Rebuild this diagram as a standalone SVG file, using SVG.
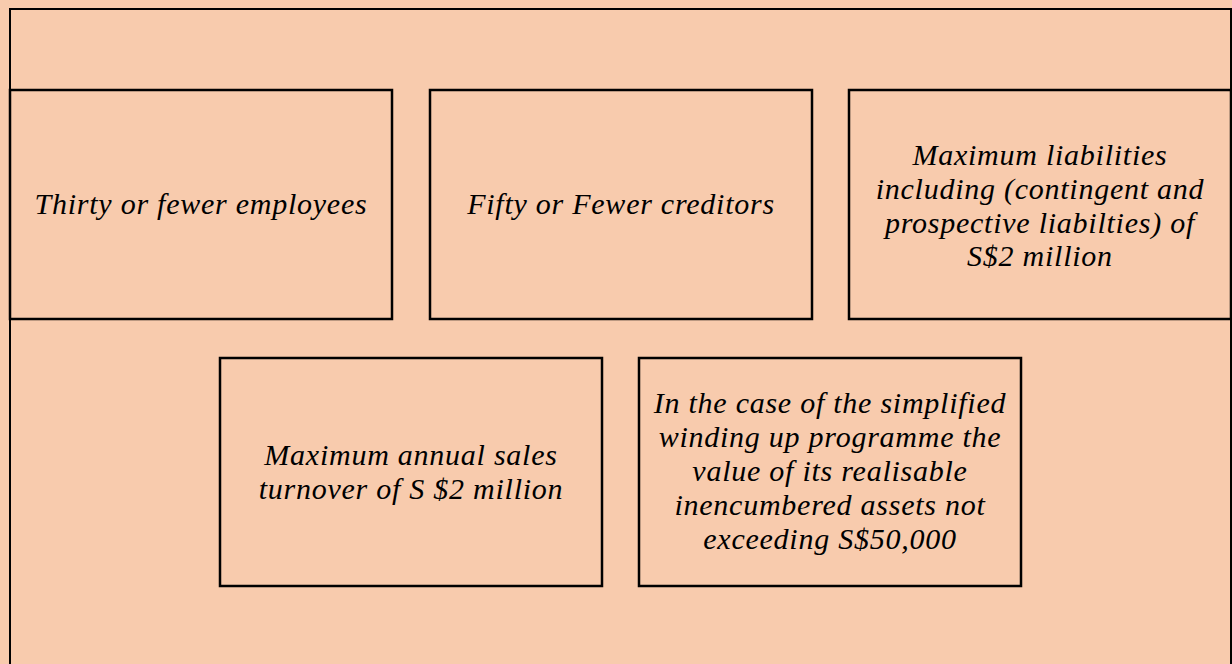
<svg xmlns="http://www.w3.org/2000/svg" width="1232" height="664" viewBox="0 0 1232 664">
  <style>
    .bg { fill: #F8CBAD; }
    .frame { fill: #F8CBAD; stroke: #000; stroke-width: 2; }
    .box { fill: #F8CBAD; stroke: #000; stroke-width: 2.5; }
    .lbl { font-family: "Liberation Serif", "Times New Roman", serif; font-style: italic; font-size: 30px; letter-spacing: 0.75px; fill: #000; text-anchor: middle; }
  </style>
  <rect class="bg" x="0" y="0" width="1232" height="664"/>
  <!-- outer frame, open at the bottom edge -->
  <rect class="frame" x="10" y="9" width="1221" height="700"/>

  <g id="node-employees">
    <rect class="box" x="10" y="90" width="382" height="229"/>
    <text class="lbl" x="201" y="214">Thirty or fewer employees</text>
  </g>

  <g id="node-creditors">
    <rect class="box" x="430" y="90" width="382" height="229"/>
    <text class="lbl" x="621" y="214">Fifty or Fewer creditors</text>
  </g>

  <g id="node-liabilities">
    <rect class="box" x="849" y="90" width="382" height="229"/>
    <text class="lbl" x="1040" y="165">Maximum liabilities</text>
    <text class="lbl" x="1040" y="199">including (contingent and</text>
    <text class="lbl" x="1040" y="233">prospective liabilties) of</text>
    <text class="lbl" x="1040" y="266">S$2 million</text>
  </g>

  <g id="node-turnover">
    <rect class="box" x="220" y="358" width="382" height="228"/>
    <text class="lbl" x="411" y="465">Maximum annual sales</text>
    <text class="lbl" x="411" y="499">turnover of S $2 million</text>
  </g>

  <g id="node-assets">
    <rect class="box" x="639" y="358" width="382" height="228"/>
    <text class="lbl" x="830" y="413">In the case of the simplified</text>
    <text class="lbl" x="830" y="447">winding up programme the</text>
    <text class="lbl" x="830" y="481">value of its realisable</text>
    <text class="lbl" x="830" y="515">inencumbered assets not</text>
    <text class="lbl" x="830" y="549">exceeding S$50,000</text>
  </g>

  <g id="connectors"></g>
</svg>
